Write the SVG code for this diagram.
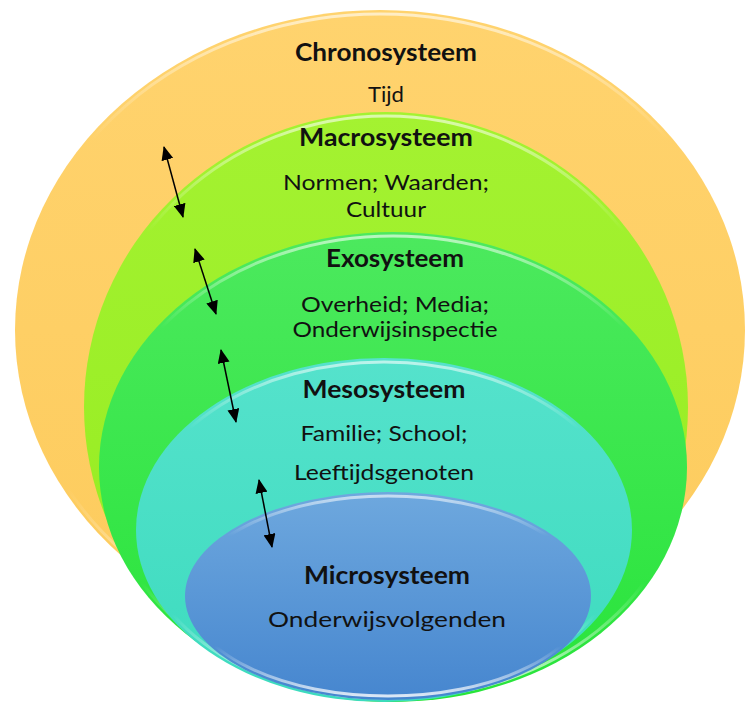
<svg xmlns="http://www.w3.org/2000/svg" width="745" height="702" viewBox="0 0 745 702">
<style>
.t{font-family:Lato,"Liberation Sans",sans-serif;fill:#111;text-anchor:middle}
.b{font-weight:bold;font-size:24px}
.r{font-size:22px}
.rim{fill:none;stroke:url(#rim);stroke-width:3}
.arr{stroke:#000;stroke-width:1.5;fill:none;marker-start:url(#ah);marker-end:url(#ah)}
</style>
<defs>
<linearGradient id="gOr" x1="0" y1="0" x2="0" y2="1"><stop offset="0" stop-color="#FFD36E"/><stop offset="1" stop-color="#FDCB5C"/></linearGradient>
<linearGradient id="gMa" x1="0" y1="0" x2="0" y2="1"><stop offset="0" stop-color="#A4F231"/><stop offset="1" stop-color="#94EB1F"/></linearGradient>
<linearGradient id="gEx" x1="0" y1="0" x2="0" y2="1"><stop offset="0" stop-color="#4CE95E"/><stop offset="1" stop-color="#28E43A"/></linearGradient>
<linearGradient id="gMe" x1="0" y1="0" x2="0" y2="1"><stop offset="0" stop-color="#55E2CC"/><stop offset="1" stop-color="#3CDBBE"/></linearGradient>
<linearGradient id="gMi" x1="0" y1="0" x2="0" y2="1"><stop offset="0" stop-color="#6EA8DE"/><stop offset="1" stop-color="#4686CF"/></linearGradient>
<linearGradient id="rim" x1="0" y1="0" x2="0" y2="1"><stop offset="0" stop-color="#fff" stop-opacity="0.6"/><stop offset="0.2" stop-color="#fff" stop-opacity="0"/><stop offset="0.75" stop-color="#fff" stop-opacity="0"/><stop offset="1" stop-color="#fff" stop-opacity="0.8"/></linearGradient>
<marker id="ah" viewBox="0 0 14 12" refX="13" refY="6" markerWidth="14" markerHeight="12" markerUnits="userSpaceOnUse" orient="auto-start-reverse"><path d="M0,0 L14,6 L0,12 z" fill="#000"/></marker>
</defs>
<g id="chronosysteem">
<ellipse cx="380" cy="330" rx="365" ry="320" fill="url(#gOr)"/>
<ellipse class="rim" cx="380" cy="330" rx="361" ry="316"/>
<text class="t b" x="386" y="61" textLength="182" lengthAdjust="spacingAndGlyphs">Chronosysteem</text>
<text class="t r" x="386" y="102" textLength="36" lengthAdjust="spacingAndGlyphs">Tijd</text>
</g>
<g id="macrosysteem">
<ellipse cx="386" cy="407" rx="302" ry="295" fill="url(#gMa)"/>
<ellipse class="rim" cx="386" cy="407" rx="298" ry="291"/>
<text class="t b" x="386" y="146" textLength="174" lengthAdjust="spacingAndGlyphs">Macrosysteem</text>
<text class="t r" x="386" y="190" textLength="206" lengthAdjust="spacingAndGlyphs">Normen; Waarden;</text>
<text class="t r" x="386" y="217" textLength="80" lengthAdjust="spacingAndGlyphs">Cultuur</text>
</g>
<g id="exosysteem">
<ellipse cx="393" cy="467" rx="294" ry="235" fill="url(#gEx)"/>
<ellipse class="rim" cx="393" cy="467" rx="290" ry="231"/>
<text class="t b" x="395" y="267" textLength="138" lengthAdjust="spacingAndGlyphs">Exosysteem</text>
<text class="t r" x="395" y="312" textLength="188" lengthAdjust="spacingAndGlyphs">Overheid; Media;</text>
<text class="t r" x="395" y="337" textLength="205" lengthAdjust="spacingAndGlyphs">Onderwijsinspectie</text>
</g>
<g id="mesosysteem">
<ellipse cx="384" cy="530" rx="248" ry="172" fill="url(#gMe)"/>
<ellipse class="rim" cx="384" cy="530" rx="244" ry="168"/>
<text class="t b" x="384" y="398" textLength="163" lengthAdjust="spacingAndGlyphs">Mesosysteem</text>
<text class="t r" x="384" y="441" textLength="167" lengthAdjust="spacingAndGlyphs">Familie; School;</text>
<text class="t r" x="384" y="480" textLength="180" lengthAdjust="spacingAndGlyphs">Leeftijdsgenoten</text>
</g>
<g id="microsysteem">
<ellipse cx="388" cy="596" rx="203" ry="104" fill="url(#gMi)"/>
<ellipse class="rim" cx="388" cy="596" rx="199" ry="100"/>
<text class="t b" x="387" y="584" textLength="166" lengthAdjust="spacingAndGlyphs">Microsysteem</text>
<text class="t r" x="387" y="627" textLength="238" lengthAdjust="spacingAndGlyphs">Onderwijsvolgenden</text>
</g>
<g id="connectors">
<line class="arr" x1="164" y1="147" x2="183" y2="217"/>
<line class="arr" x1="195" y1="249" x2="216" y2="314"/>
<line class="arr" x1="221" y1="350" x2="236" y2="422"/>
<line class="arr" x1="259" y1="480" x2="272" y2="547"/>
</g>
</svg>
